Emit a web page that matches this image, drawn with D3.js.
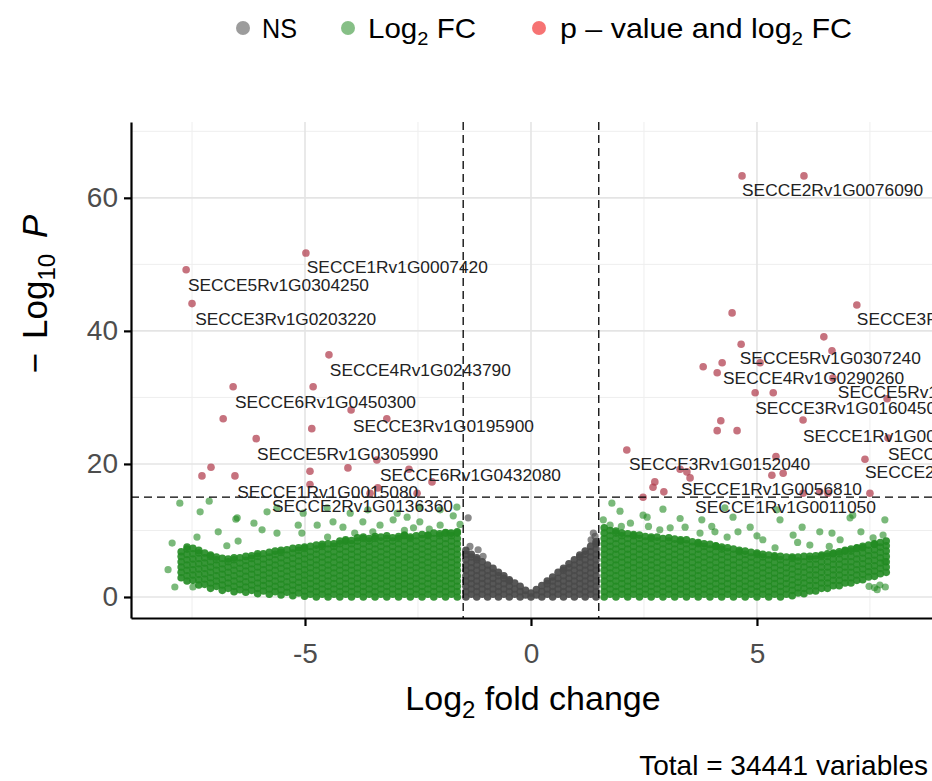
<!DOCTYPE html>
<html>
<head>
<meta charset="utf-8">
<script src="https://cdn.jsdelivr.net/npm/d3@7"></script>
<style>
  body { margin: 0; background: #fff; }
  svg { display: block; font-family: "Liberation Sans", Arial, sans-serif; }
</style>
</head>
<body>
<div id="chart"></div>
<script>
// Cutoffs and axis ticks
const FC_CUTOFF = 1.5;
const P_CUTOFF = 15;
const TOTAL_VARIABLES = 34441;
const xTicks = [-5, 0, 5];
const xMinor = [-7.5, -2.5, 2.5, 7.5];
const yTicks = [0, 20, 40, 60];
const yMinor = [10, 30, 50, 70];

// Legend categories
const legendKeys = ["NS", "Log2 FC", "p - value and log2 FC"];

// NS points (|log2FC| < 1.5), one column per log2FC value: [x, y1, y2, ...]
const nsColumns = [
  [-1.44, 0,0.8,1.6,2.4,3.2,4.0,4.8,5.6,6.4,7.0],
  [-1.32, 0.4,1.2,2.0,2.8,3.6,4.4,5.2,6.0,6.4],
  [-1.20, 0,0.8,1.6,2.4,3.2,4.0,4.8,5.6,5.9],
  [-1.08, 0.4,1.2,2.0,2.8,3.6,4.4,5.3],
  [-0.96, 0,0.8,1.6,2.4,3.2,4.0,4.8],
  [-0.84, 0.4,1.2,2.0,2.8,3.6,4.3],
  [-0.72, 0,0.8,1.6,2.4,3.2,3.7],
  [-0.60, 0.4,1.2,2.0,2.8,3.2],
  [-0.48, 0,0.8,1.6,2.4,2.6],
  [-0.36, 0.4,1.2,2.1],
  [-0.24, 0,0.8,1.6],
  [-0.12, 0.3,1.0],
  [0.00, 0,0.6],
  [0.12, 0.3,1.1],
  [0.24, 0,0.8,1.7],
  [0.36, 0.4,1.2,2.0,2.4],
  [0.48, 0,0.8,1.6,2.4,3.0],
  [0.60, 0.4,1.2,2.0,2.8,3.7],
  [0.72, 0,0.8,1.6,2.4,3.2,4.0,4.3],
  [0.84, 0.4,1.2,2.0,2.8,3.6,4.4,5.0],
  [0.96, 0,0.8,1.6,2.4,3.2,4.0,4.8,5.6],
  [1.08, 0.4,1.2,2.0,2.8,3.6,4.4,5.2,6.0,6.3],
  [1.20, 0,0.8,1.6,2.4,3.2,4.0,4.8,5.6,6.4,6.9],
  [1.32, 0.4,1.2,2.0,2.8,3.6,4.4,5.2,6.0,6.8,7.6],
  [1.44, 0,0.8,1.6,2.4,3.2,4.0,4.8,5.6,6.4,7.2,8.0,8.3]
];
const nsScatter = [
  [-1.39,11.9],[-1.35,7.6],[-1.17,7.1],[-1.06,6.1],[1.33,8.6],[1.42,9.1],[1.38,9.6]
];

// Log2 FC points (dense band), left side
const fcColumnsLeft = [
  [-7.74, 2.9,3.7,4.5,5.3,6.1,6.8],
  [-7.61, 2.4,3.2,4.0,4.8,5.6,6.4,7.2,7.5],
  [-7.48, 2.5,3.3,4.1,4.9,5.7,6.5,7.3],
  [-7.35, 1.8,2.6,3.4,4.2,5.0,5.8,6.6,7.0],
  [-7.22, 1.9,2.7,3.5,4.3,5.1,5.9,6.6],
  [-7.09, 1.3,2.1,2.9,3.7,4.5,5.3,6.1,6.3],
  [-6.96, 1.6,2.4,3.2,4.0,4.8,5.6,6.0],
  [-6.83, 1.0,1.8,2.6,3.4,4.2,5.0,5.8],
  [-6.70, 1.3,2.1,2.9,3.7,4.5,5.3,5.7],
  [-6.57, 0.8,1.6,2.4,3.2,4.0,4.8,5.6,5.9],
  [-6.44, 1.1,1.9,2.7,3.5,4.3,5.1,5.9],
  [-6.31, 0.7,1.5,2.3,3.1,3.9,4.7,5.5,6.1],
  [-6.18, 1.0,1.8,2.6,3.4,4.2,5.0,5.8,6.2],
  [-6.05, 0.5,1.3,2.1,2.9,3.7,4.5,5.3,6.1,6.5],
  [-5.92, 0.9,1.7,2.5,3.3,4.1,4.9,5.7,6.5],
  [-5.79, 0.4,1.2,2.0,2.8,3.6,4.4,5.2,6.0,6.7],
  [-5.66, 0.8,1.6,2.4,3.2,4.0,4.8,5.6,6.4,6.9],
  [-5.53, 0.3,1.1,1.9,2.7,3.5,4.3,5.1,5.9,6.7,7.0],
  [-5.40, 0.7,1.5,2.3,3.1,3.9,4.7,5.5,6.3,7.1],
  [-5.27, 0.2,1.0,1.8,2.6,3.4,4.2,5.0,5.8,6.6,7.3],
  [-5.14, 0.6,1.4,2.2,3.0,3.8,4.6,5.4,6.2,7.0,7.4],
  [-5.01, 0.1,0.9,1.7,2.5,3.3,4.1,4.9,5.7,6.5,7.3,7.5],
  [-4.88, 0.4,1.2,2.0,2.8,3.6,4.4,5.2,6.0,6.8,7.6],
  [-4.75, 0,0.8,1.6,2.4,3.2,4.0,4.8,5.6,6.4,7.2,7.8],
  [-4.62, 0.4,1.2,2.0,2.8,3.6,4.4,5.2,6.0,6.8,7.6,7.9],
  [-4.49, 0,0.8,1.6,2.4,3.2,4.0,4.8,5.6,6.4,7.2,8.0],
  [-4.36, 0.4,1.2,2.0,2.8,3.6,4.4,5.2,6.0,6.8,7.6,8.0],
  [-4.23, 0,0.8,1.6,2.4,3.2,4.0,4.8,5.6,6.4,7.2,8.0,8.4],
  [-4.10, 0.4,1.2,2.0,2.8,3.6,4.4,5.2,6.0,6.8,7.6,8.4,8.6],
  [-3.97, 0,0.8,1.6,2.4,3.2,4.0,4.8,5.6,6.4,7.2,8.0,8.5],
  [-3.84, 0.4,1.2,2.0,2.8,3.6,4.4,5.2,6.0,6.8,7.6,8.4,8.9],
  [-3.71, 0,0.8,1.6,2.4,3.2,4.0,4.8,5.6,6.4,7.2,8.0,8.8,9.0],
  [-3.58, 0.4,1.2,2.0,2.8,3.6,4.4,5.2,6.0,6.8,7.6,8.4,8.8],
  [-3.45, 0,0.8,1.6,2.4,3.2,4.0,4.8,5.6,6.4,7.2,8.0,8.8,9.1],
  [-3.32, 0.4,1.2,2.0,2.8,3.6,4.4,5.2,6.0,6.8,7.6,8.4,9.0],
  [-3.19, 0,0.8,1.6,2.4,3.2,4.0,4.8,5.6,6.4,7.2,8.0,8.8,9.2],
  [-3.06, 0.4,1.2,2.0,2.8,3.6,4.4,5.2,6.0,6.8,7.6,8.4,8.9],
  [-2.93, 0,0.8,1.6,2.4,3.2,4.0,4.8,5.6,6.4,7.2,8.0,8.8,9.1],
  [-2.80, 0.4,1.2,2.0,2.8,3.6,4.4,5.2,6.0,6.8,7.6,8.4,9.2,9.3],
  [-2.67, 0,0.8,1.6,2.4,3.2,4.0,4.8,5.6,6.4,7.2,8.0,8.8,9.0],
  [-2.54, 0.4,1.2,2.0,2.8,3.6,4.4,5.2,6.0,6.8,7.6,8.4,9.2],
  [-2.41, 0,0.8,1.6,2.4,3.2,4.0,4.8,5.6,6.4,7.2,8.0,8.8,9.4],
  [-2.28, 0.4,1.2,2.0,2.8,3.6,4.4,5.2,6.0,6.8,7.6,8.4,9.2,9.3],
  [-2.15, 0,0.8,1.6,2.4,3.2,4.0,4.8,5.6,6.4,7.2,8.0,8.8,9.6],
  [-2.02, 0.4,1.2,2.0,2.8,3.6,4.4,5.2,6.0,6.8,7.6,8.4,9.2,9.5],
  [-1.89, 0,0.8,1.6,2.4,3.2,4.0,4.8,5.6,6.4,7.2,8.0,8.8,9.6,9.7],
  [-1.76, 0.4,1.2,2.0,2.8,3.6,4.4,5.2,6.0,6.8,7.6,8.4,9.2,9.6],
  [-1.63, 0,0.8,1.6,2.4,3.2,4.0,4.8,5.6,6.4,7.2,8.0,8.8,9.6,9.8]
];

// Log2 FC points (dense band), right side
const fcColumnsRight = [
  [1.62, 0,0.8,1.6,2.4,3.2,4.0,4.8,5.6,6.4,7.2,8.0,8.8,9.6,10.4],
  [1.75, 0.4,1.2,2.0,2.8,3.6,4.4,5.2,6.0,6.8,7.6,8.4,9.2,10.0],
  [1.88, 0,0.8,1.6,2.4,3.2,4.0,4.8,5.6,6.4,7.2,8.0,8.8,9.6,9.9],
  [2.01, 0.4,1.2,2.0,2.8,3.6,4.4,5.2,6.0,6.8,7.6,8.4,9.2,9.6],
  [2.14, 0,0.8,1.6,2.4,3.2,4.0,4.8,5.6,6.4,7.2,8.0,8.8,9.5],
  [2.27, 0.4,1.2,2.0,2.8,3.6,4.4,5.2,6.0,6.8,7.6,8.4,9.2,9.4],
  [2.40, 0,0.8,1.6,2.4,3.2,4.0,4.8,5.6,6.4,7.2,8.0,8.8,9.3],
  [2.53, 0.4,1.2,2.0,2.8,3.6,4.4,5.2,6.0,6.8,7.6,8.4,9.1],
  [2.66, 0,0.8,1.6,2.4,3.2,4.0,4.8,5.6,6.4,7.2,8.0,8.8,9.0],
  [2.79, 0.4,1.2,2.0,2.8,3.6,4.4,5.2,6.0,6.8,7.6,8.4,9.0],
  [2.92, 0,0.8,1.6,2.4,3.2,4.0,4.8,5.6,6.4,7.2,8.0,8.8],
  [3.05, 0.4,1.2,2.0,2.8,3.6,4.4,5.2,6.0,6.8,7.6,8.4,8.9],
  [3.18, 0,0.8,1.6,2.4,3.2,4.0,4.8,5.6,6.4,7.2,8.0,8.7],
  [3.31, 0.4,1.2,2.0,2.8,3.6,4.4,5.2,6.0,6.8,7.6,8.4,8.6],
  [3.44, 0,0.8,1.6,2.4,3.2,4.0,4.8,5.6,6.4,7.2,8.0,8.6],
  [3.57, 0.4,1.2,2.0,2.8,3.6,4.4,5.2,6.0,6.8,7.6,8.3],
  [3.70, 0,0.8,1.6,2.4,3.2,4.0,4.8,5.6,6.4,7.2,8.0,8.2],
  [3.83, 0.4,1.2,2.0,2.8,3.6,4.4,5.2,6.0,6.8,7.6,8.0],
  [3.96, 0,0.8,1.6,2.4,3.2,4.0,4.8,5.6,6.4,7.2,7.9],
  [4.09, 0.4,1.2,2.0,2.8,3.6,4.4,5.2,6.0,6.8,7.6,7.7],
  [4.22, 0,0.8,1.6,2.4,3.2,4.0,4.8,5.6,6.4,7.2,7.5],
  [4.35, 0.4,1.2,2.0,2.8,3.6,4.4,5.2,6.0,6.8,7.4],
  [4.48, 0,0.8,1.6,2.4,3.2,4.0,4.8,5.6,6.4,7.2],
  [4.61, 0.4,1.2,2.0,2.8,3.6,4.4,5.2,6.0,6.8,7.0],
  [4.74, 0,0.8,1.6,2.4,3.2,4.0,4.8,5.6,6.4,6.9],
  [4.87, 0.4,1.2,2.0,2.8,3.6,4.4,5.2,6.0,6.7],
  [5.00, 0,0.8,1.6,2.4,3.2,4.0,4.8,5.6,6.4,6.6],
  [5.13, 0.4,1.2,2.0,2.8,3.6,4.4,5.2,6.0,6.4],
  [5.26, 0,0.8,1.6,2.4,3.2,4.0,4.8,5.6,6.3],
  [5.39, 0.4,1.2,2.0,2.8,3.6,4.4,5.2,6.0,6.2],
  [5.52, 0,0.8,1.6,2.4,3.2,4.0,4.8,5.6,6.1],
  [5.65, 0.4,1.2,2.0,2.8,3.6,4.4,5.2,6.0],
  [5.78, 0.2,1.0,1.8,2.6,3.4,4.2,5.0,5.8,6.0],
  [5.91, 0.6,1.4,2.2,3.0,3.8,4.6,5.4,6.0],
  [6.04, 0.5,1.3,2.1,2.9,3.7,4.5,5.3,6.1],
  [6.17, 0.9,1.7,2.5,3.3,4.1,4.9,5.7,6.1],
  [6.30, 0.9,1.7,2.5,3.3,4.1,4.9,5.7,6.2],
  [6.43, 1.3,2.1,2.9,3.7,4.5,5.3,6.1,6.3],
  [6.56, 1.3,2.1,2.9,3.7,4.5,5.3,6.1,6.5],
  [6.69, 1.7,2.5,3.3,4.1,4.9,5.7,6.5,6.6],
  [6.82, 1.7,2.5,3.3,4.1,4.9,5.7,6.5,6.8],
  [6.95, 2.1,2.9,3.7,4.5,5.3,6.1,6.9,7.0],
  [7.08, 2.1,2.9,3.7,4.5,5.3,6.1,6.9,7.2],
  [7.21, 2.5,3.3,4.1,4.9,5.7,6.5,7.3,7.4],
  [7.34, 2.6,3.4,4.2,5.0,5.8,6.6,7.4,7.6],
  [7.47, 3.0,3.8,4.6,5.4,6.2,7.0,7.8],
  [7.60, 3.1,3.9,4.7,5.5,6.3,7.1,7.9,8.0],
  [7.73, 3.5,4.3,5.1,5.9,6.7,7.5,8.2],
  [7.86, 3.7,4.5,5.3,6.1,6.9,7.7,8.4]
];

// Log2 FC points scattered above the band
const fcScatter = [
  [-7.77,14.1],[-7.32,12.8],[-7.12,14.4],[-6.92,9.8],[-6.53,11.7],[-6.13,11.1],[-5.95,10.1],
  [-5.84,12.8],[-7.39,9.0],[-7.94,8.1],[-8.03,4.1],[-7.88,1.5],[-7.48,1.5],[-6.48,8.4],
  [-6.73,7.7],[-5.62,9.6],[-5.15,10.8],[-5.07,9.6],[-6.50,11.9],[-4.73,10.8],[-4.38,11.3],
  [-4.16,10.5],[-3.72,11.3],[-3.34,10.8],[-3.05,11.6],[-2.74,12.0],[-2.46,11.3],[-2.01,10.8],
  [-1.79,9.6],[-5.62,13.4],[-5.04,12.6],[-4.51,13.4],[-4.00,12.6],[-3.61,13.1],[-2.96,12.6],
  [-2.46,13.5],[-2.01,13.1],[-1.64,13.5],[-1.57,10.9],[-1.72,12.2],[-2.25,10.2],[-2.80,10.0],
  [-3.50,9.8],[-4.50,9.0],[-3.90,9.6],[-2.60,10.4],
  [1.79,14.1],[1.97,12.9],[2.57,12.0],[2.92,13.2],[1.75,10.8],[2.85,10.1],[3.08,10.4],
  [3.41,10.5],[3.78,11.6],[3.74,9.6],[4.07,9.8],[4.34,9.0],[4.58,9.8],[4.85,10.5],[4.29,13.4],
  [4.47,12.0],[5.13,8.6],[5.51,11.6],[5.80,9.3],[6.00,10.5],[6.39,9.8],[6.66,9.6],[7.12,12.3],
  [7.57,8.9],[7.83,11.6],[7.79,9.3],[7.83,5.3],[5.40,7.4],[6.17,7.8],[6.84,8.6],[2.48,12.3],
  [5.44,13.1],[7.06,11.9],[2.20,11.1],[2.60,10.6],[3.30,11.8],[4.00,10.6],[5.00,9.2],
  [5.90,8.2],[6.60,7.6],[7.30,9.8],[1.60,11.6],[2.00,10.6],
  [7.48,1.6],[7.60,1.4],[7.72,1.8],[7.84,1.5],[7.66,1.1]
];

// p-value and log2 FC points
const sigPoints = [
  [-7.63,49.2],[-7.50,44.1],[-4.98,51.7],[-4.47,36.4],[-6.59,31.6],[-4.82,31.6],[-3.98,28.1],
  [-6.81,26.8],[-4.85,25.3],[-3.19,26.8],[-6.08,23.8],[-7.08,19.5],[-7.28,18.2],[-6.55,18.2],
  [-4.89,18.9],[-4.05,19.4],[-3.41,20.6],[-2.70,19.2],[-2.19,17.3],[-4.89,16.9],[-3.39,16.4],
  [-3.56,15.6],[-2.52,15.6],
  [4.67,63.3],[6.04,63.3],[7.21,43.9],[4.45,42.7],[6.48,39.1],[4.65,38.0],[6.66,37.0],
  [5.07,35.2],[3.81,34.6],[4.23,35.2],[4.12,33.7],[6.68,32.9],[4.96,30.7],[5.36,30.7],
  [7.88,29.8],[6.02,26.6],[4.20,26.5],[4.12,25.0],[4.56,25.0],[7.90,23.9],[2.12,22.1],
  [5.42,21.1],[7.39,20.7],[3.45,18.8],[3.30,19.2],[5.33,18.3],[5.58,18.6],[2.74,17.3],
  [2.70,16.5],[2.94,15.8],[3.52,17.9],[2.48,15.0],[6.02,15.6],[6.39,15.8],[6.57,15.6],[7.50,15.6]
];

// Gene labels and where they sit (data units: left edge of text, middle of text)
const geneNames = [
  "SECCE5Rv1G0304250","SECCE3Rv1G0203220","SECCE1Rv1G0007420","SECCE4Rv1G0243790",
  "SECCE6Rv1G0450300","SECCE3Rv1G0195900","SECCE5Rv1G0305990","SECCE6Rv1G0432080",
  "SECCE1Rv1G0015080","SECCE2Rv1G0136360","SECCE2Rv1G0076090","SECCE3Rv1G0219410",
  "SECCE5Rv1G0307240","SECCE4Rv1G0290260","SECCE5Rv1G0337860","SECCE3Rv1G0160450",
  "SECCE1Rv1G0064710","SECCE7Rv1G0495180","SECCE2Rv1G0112630","SECCE3Rv1G0152040",
  "SECCE1Rv1G0056810","SECCE1Rv1G0011050"
];
const labelX = [-7.59,-7.43,-4.96,-4.45,-6.55,-3.94,-6.06,-3.34,-6.50,-5.73,
  4.67,7.21,4.62,4.25,6.79,4.96,6.02,7.90,7.39,2.17,3.32,3.63];
const labelY = [46.9,41.7,49.5,34.1,29.2,25.7,21.5,18.3,15.8,13.7,
  61.1,41.7,35.9,32.9,30.8,28.4,24.2,21.4,18.8,20.0,16.2,13.5];

// Colours
const COL_NS = "#4a4a4a";
const COL_FC = "#228b22";
const COL_SIG = "#b03c4c";

const W = 932, H = 781;
const svg = d3.select("#chart").append("svg").attr("width", W).attr("height", H);

const x = d3.scaleLinear().domain([-8.85, 9.05]).range([131, 940]);
const y = d3.scaleLinear().domain([-3.16, 71.4]).range([618, 122]);
const [x0, x1] = x.range();
const [yb, yt] = y.range();

// Grid lines
const grid = svg.append("g");
grid.selectAll("line.vmin").data(xMinor).enter().append("line")
  .attr("x1", d => x(d)).attr("x2", d => x(d)).attr("y1", yt).attr("y2", yb)
  .attr("stroke", "#eeeeee").attr("stroke-width", 1);
grid.selectAll("line.hmin").data(yMinor).enter().append("line")
  .attr("x1", x0).attr("x2", x1).attr("y1", d => y(d)).attr("y2", d => y(d))
  .attr("stroke", "#eeeeee").attr("stroke-width", 1);
grid.selectAll("line.vmaj").data(xTicks).enter().append("line")
  .attr("x1", d => x(d)).attr("x2", d => x(d)).attr("y1", yt).attr("y2", yb)
  .attr("stroke", "#e4e4e4").attr("stroke-width", 1.6);
grid.selectAll("line.hmaj").data(yTicks).enter().append("line")
  .attr("x1", x0).attr("x2", x1).attr("y1", d => y(d)).attr("y2", d => y(d))
  .attr("stroke", "#e4e4e4").attr("stroke-width", 1.6);

// Points
const toPoints = cols => cols.flatMap(c => c.slice(1).map(v => [c[0], v]));
function drawPoints(data, fill, opacity, r) {
  svg.append("g").selectAll("circle").data(data).enter().append("circle")
    .attr("cx", d => x(d[0])).attr("cy", d => y(d[1])).attr("r", r)
    .attr("fill", fill).attr("fill-opacity", opacity);
}
// dense clouds overlap so heavily that they read as solid colour
drawPoints(toPoints(nsColumns), COL_NS, 0.92, 3.8);
drawPoints(nsScatter, COL_NS, 0.65, 3.6);
drawPoints(toPoints(fcColumnsLeft).concat(toPoints(fcColumnsRight)), COL_FC, 0.9, 3.8);
drawPoints(fcScatter, COL_FC, 0.6, 3.6);
drawPoints(sigPoints, COL_SIG, 0.72, 3.8);

// Cutoff lines
const cut = svg.append("g").attr("stroke", "#000").attr("stroke-width", 1.3)
  .attr("stroke-dasharray", "8,5");
[-FC_CUTOFF, FC_CUTOFF].forEach(v => {
  cut.append("line").attr("x1", x(v)).attr("x2", x(v)).attr("y1", yt).attr("y2", yb);
});
cut.append("line").attr("x1", x0).attr("x2", x1).attr("y1", y(P_CUTOFF)).attr("y2", y(P_CUTOFF));

// Gene labels
svg.append("g").selectAll("text").data(geneNames).enter().append("text")
  .attr("x", (d, i) => x(labelX[i])).attr("y", (d, i) => y(labelY[i]))
  .attr("dy", "0.36em")
  .attr("font-size", 16).attr("fill", "#222")
  .attr("textLength", 181).attr("lengthAdjust", "spacingAndGlyphs")
  .text(d => d);

// Axes
const xAxis = svg.append("g").attr("transform", `translate(0,${yb})`)
  .call(d3.axisBottom(x).tickValues(xTicks).tickSize(8).tickSizeOuter(0).tickPadding(17)
    .tickFormat(d3.format("d")));
const yAxis = svg.append("g").attr("transform", `translate(${x0},0)`)
  .call(d3.axisLeft(y).tickValues(yTicks).tickSize(7).tickSizeOuter(0).tickPadding(6));
[xAxis, yAxis].forEach(a => {
  a.select(".domain").attr("stroke", "#000").attr("stroke-width", 2.2);
  a.selectAll(".tick line").attr("stroke", "#000").attr("stroke-width", 2.2);
  a.selectAll(".tick text").attr("font-size", 28).attr("fill", "#4d4d4d")
    .attr("font-family", "Liberation Sans, Arial, sans-serif");
});
xAxis.selectAll(".tick text").text(d => d < 0 ? "-" + Math.abs(d) : d);

// Axis titles
const xt = svg.append("text").attr("x", 533).attr("y", 710)
  .attr("text-anchor", "middle").attr("font-size", 34).attr("fill", "#000");
xt.append("tspan").text("Log");
xt.append("tspan").attr("font-size", 24).attr("dy", 8).text("2");
xt.append("tspan").attr("dy", -8).text(" fold change");

const yTitle = svg.append("text")
  .attr("transform", "translate(47,294) rotate(-90)")
  .attr("text-anchor", "middle").attr("font-size", 35).attr("fill", "#000");
yTitle.append("tspan").text("\u2212");
yTitle.append("tspan").attr("dx", 14).text("Log");
yTitle.append("tspan").attr("font-size", 24).attr("dy", 8).text("10");
yTitle.append("tspan").attr("dy", -8).attr("dx", 16).attr("font-style", "italic").text("P");

// Legend
const legendDotX = [243, 348, 539];
const legendTextX = [262, 368, 560];
const legendTextLen = [35, 108, 292];
const legendCols = [COL_NS, COL_FC, "#ee0000"];
const lg = svg.append("g");
legendKeys.forEach((k, i) => {
  lg.append("circle").attr("cx", legendDotX[i]).attr("cy", 28).attr("r", 7)
    .attr("fill", legendCols[i]).attr("fill-opacity", 0.55);
  const t = lg.append("text").attr("x", legendTextX[i]).attr("y", 38)
    .attr("font-size", 28).attr("fill", "#000")
    .attr("textLength", legendTextLen[i]).attr("lengthAdjust", "spacingAndGlyphs");
  if (i === 0) {
    t.text("NS");
  } else if (i === 1) {
    t.append("tspan").text("Log");
    t.append("tspan").attr("font-size", 19).attr("dy", 7).text("2");
    t.append("tspan").attr("dy", -7).text(" FC");
  } else {
    t.append("tspan").text("p \u2013 value and log");
    t.append("tspan").attr("font-size", 19).attr("dy", 7).text("2");
    t.append("tspan").attr("dy", -7).text(" FC");
  }
});

// Caption
svg.append("text").attr("x", 928).attr("y", 775).attr("text-anchor", "end")
  .attr("font-size", 28).attr("fill", "#000")
  .text("Total = " + TOTAL_VARIABLES + " variables");
</script>
</body>
</html>
